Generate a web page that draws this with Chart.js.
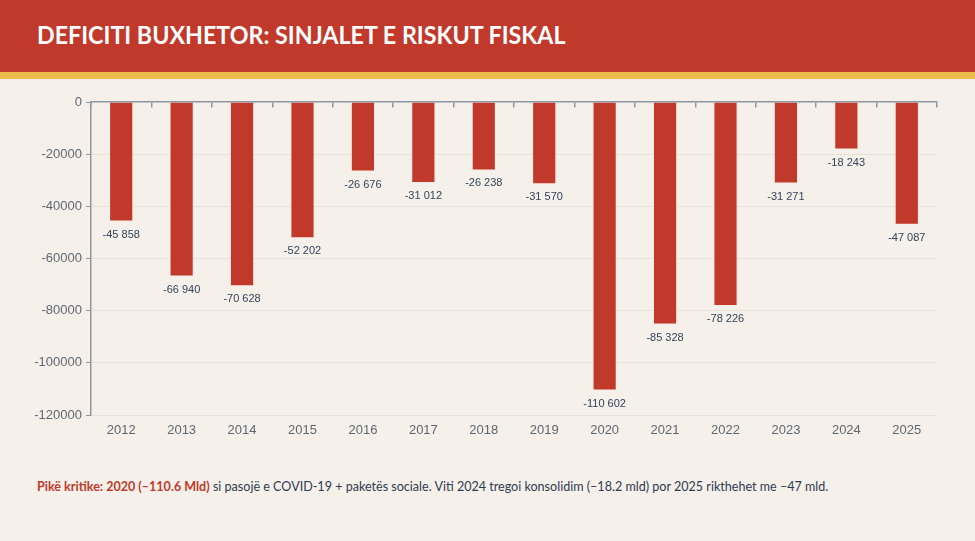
<!DOCTYPE html>
<html>
<head>
<meta charset="utf-8">
<script src="https://cdn.jsdelivr.net/npm/chart.js@4.4.1/dist/chart.umd.min.js"></script>
<style>
  html, body { margin:0; padding:0; }
  body { width:975px; height:541px; background:#f5f1ea; position:relative; overflow:hidden; font-family: Lato, "Open Sans", sans-serif; }
  #hdr { position:absolute; left:0; top:0; width:975px; height:72px; background:#c0392b; }
  #stripe { position:absolute; left:0; top:72px; width:975px; height:7px; background:#eebb4d; }
  #title { position:absolute; left:37px; top:19px; color:#fff; font-family: Lato, "Open Sans", sans-serif; font-weight:700; font-size:25px; white-space:nowrap; transform:scaleX(0.93); transform-origin:left top; }
  #wrap { position:absolute; left:0; top:80px; width:975px; height:370px; }
  #note { position:absolute; left:37px; top:478px; font-size:13px; color:#2e3a52; white-space:nowrap; font-family: Lato, "Open Sans", sans-serif; transform:scaleX(0.966); transform-origin:left top; }
  #note b { color:#c0392b; }
</style>
</head>
<body>
<div id="hdr"></div>
<div id="stripe"></div>
<div id="title">DEFICITI BUXHETOR: SINJALET E RISKUT FISKAL</div>
<div id="wrap"><canvas id="c"></canvas></div>
<div id="note"><b>Pikë kritike: 2020 (–110.6 Mld)</b> si pasojë e COVID-19 + paketës sociale. Viti 2024 tregoi konsolidim (–18.2 mld) por 2025 rikthehet me –47 mld.</div>
<script>
const years = ["2012","2013","2014","2015","2016","2017","2018","2019","2020","2021","2022","2023","2024","2025"];
const deficit = [-45858, -66940, -70628, -52202, -26676, -31012, -26238, -31570, -110602, -85328, -78226, -31271, -18243, -47087];
const yTicks = [0, -20000, -40000, -60000, -80000, -100000, -120000];

function fmt(v) {
  const s = Math.abs(v).toString().replace(/\B(?=(\d{3})+(?!\d))/g, " ");
  return (v < 0 ? "-" : "") + s;
}

const valueLabels = {
  id: 'valueLabels',
  afterDatasetsDraw(chart) {
    const ctx = chart.ctx;
    const meta = chart.getDatasetMeta(0);
    ctx.save();
    ctx.font = '11px "Liberation Sans", Arial, sans-serif';
    ctx.fillStyle = '#34435a';
    ctx.textAlign = 'center';
    ctx.textBaseline = 'middle';
    meta.data.forEach((bar, i) => {
      ctx.fillText(fmt(deficit[i]), bar.x, bar.y + 13);
    });
    ctx.restore();
  }
};

new Chart(document.getElementById('c'), {
  type: 'bar',
  data: {
    labels: years,
    datasets: [{
      data: deficit,
      backgroundColor: '#c0392b',
      borderColor: 'rgba(255,235,230,0.7)',
      borderWidth: 1,
      barPercentage: 0.4,
      categoryPercentage: 1.0
    }]
  },
  options: {
    responsive: true,
    maintainAspectRatio: false,
    animation: false,
    layout: { padding: { top: 22, right: 38, left: 0, bottom: 0 } },
    plugins: { legend: { display: false }, tooltip: { enabled: false } },
    scales: {
      y: {
        min: -120000, max: 0,
        afterBuildTicks(s) { s.ticks = yTicks.map(v => ({ value: v })); },
        afterFit(s) { s.width = 91; },
        ticks: {
          color: '#5f6673',
          font: { family: '"Liberation Sans", Arial, sans-serif', size: 13 },
          padding: 4,
          callback: v => String(v)
        },
        grid: {
          color: ctx => ctx.tick && ctx.tick.value === 0 ? 'rgba(0,0,0,0)' : '#e7e2d9',
          tickColor: '#8d96a3',
          tickLength: 5,
          lineWidth: 1
        },
        border: { display: true, color: '#8d96a3', width: 1.5 }
      },
      x: {
        position: 'bottom',
        offset: true,
        afterFit(s) { s.height = 35; },
        ticks: {
          color: '#5f6673',
          font: { family: '"Liberation Sans", Arial, sans-serif', size: 13 },
          padding: 8,
          maxRotation: 0
        },
        grid: { display: false, drawTicks: false },
        border: { display: false }
      },
      xz: {
        type: 'category',
        position: { y: 0 },
        offset: true,
        ticks: { display: false },
        grid: { offset: true, drawOnChartArea: false, drawTicks: true, tickLength: 5, tickColor: '#8d96a3', lineWidth: 1.5 },
        border: { display: true, color: '#8d96a3', width: 1.5 }
      }
    }
  },
  plugins: [valueLabels]
});
</script>
</body>
</html>
